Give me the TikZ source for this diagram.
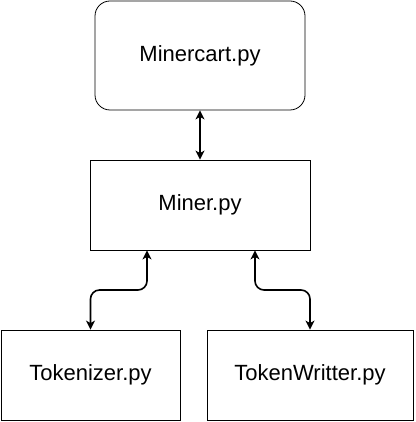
\documentclass[tikz,border=0pt]{standalone}
\usepackage{fontspec}
\setmainfont{Liberation Sans}
\usepackage{tikz}
\usetikzlibrary{positioning, arrows.meta}

\tikzset{
    filebox/.style={rectangle, draw, line width=0.8pt, inner sep=0pt, minimum height=90pt, font=\fontsize{22}{26}\selectfont},
    link/.style={{Stealth[length=9pt, width=9pt, inset=2.5pt]}-{Stealth[length=9pt, width=9pt, inset=2.5pt]}, line width=1.6pt, rounded corners=9pt}
}

\begin{document}
\begin{tikzpicture}[x=1pt, y=1pt]
                    \useasboundingbox (0, 0) rectangle (415, 422);
                    \node[filebox, rounded corners=15pt, minimum width=210pt, minimum height=109pt] (cart) at (200, 366.5) {Minercart.py};
                    \node[filebox, minimum width=220pt] (miner) at (200, 217) {Miner.py};
                    \node[filebox, minimum width=179pt] (tok) at (90.5, 47) {Tokenizer.py};
                    \node[filebox, minimum width=206pt] (tw) at (310, 47) {TokenWritter.py};

                    \coordinate (jl) at (147, 132);
                    \coordinate (jr) at (255, 132);

                    \draw[link] (cart) -- (miner);
                    \draw[link] (miner.south -| jl) -- (jl) -| (tok.north);
                    \draw[link] (miner.south -| jr) -- (jr) -| (tw.north);
                \end{tikzpicture}
\end{document}
